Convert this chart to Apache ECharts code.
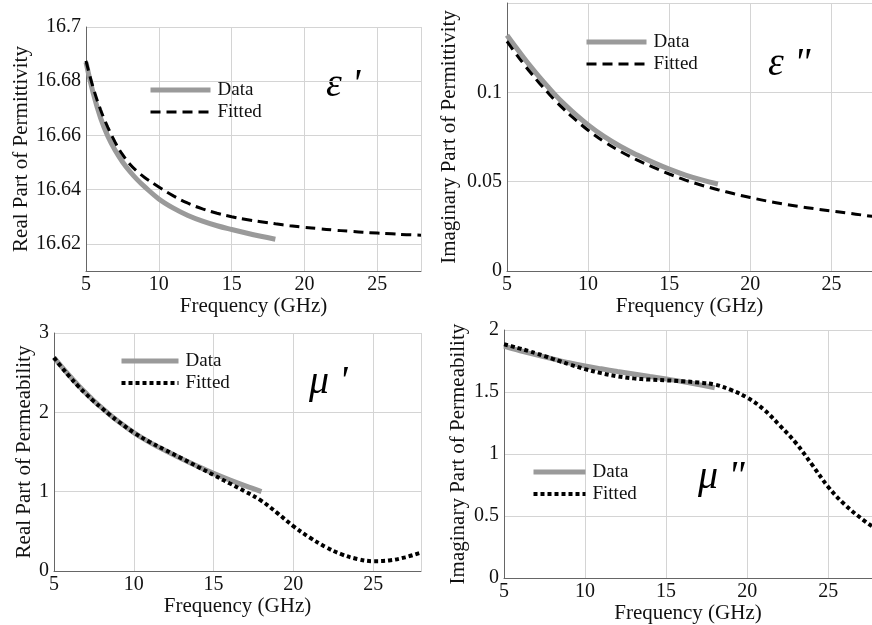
<!DOCTYPE html>
<html>
<head>
<meta charset="utf-8">
<script src="https://cdn.jsdelivr.net/npm/echarts@6/dist/echarts.min.js"></script>
<style>
  html, body { margin: 0; padding: 0; background: #fff; }
  #main { width: 872px; height: 625px; }
</style>
</head>
<body>
<div id="main"></div>
<script>
// frequency points (GHz)
var dataFreq = [5, 5.5, 6, 6.5, 7, 7.5, 8, 8.5, 9, 10, 11, 12, 13, 14, 15, 16, 17, 18];
var fitFreq = [5, 5.5, 6, 6.5, 7, 7.5, 8, 8.5, 9, 10, 11, 12, 13, 14, 15, 16, 17, 18,
               19, 20, 21, 22, 23, 24, 25, 26, 27, 28];

// eps'  real part of permittivity
var epsRealData = [16.687, 16.6755, 16.6665, 16.6597, 16.6545, 16.6503, 16.6468, 16.6438, 16.6412,
                   16.6366, 16.6332, 16.6305, 16.6284, 16.6267, 16.6253, 16.6240, 16.6228, 16.6217];
var epsRealFit = [16.6875, 16.6775, 16.6695, 16.6630, 16.6575, 16.6530, 16.6495, 16.6468, 16.6446,
                  16.6410, 16.6377, 16.6350, 16.6329, 16.6313, 16.6300, 16.6290, 16.6282, 16.6274,
                  16.6267, 16.6261, 16.6256, 16.6251, 16.6247, 16.6243, 16.6240, 16.6237, 16.6234, 16.6232];

// eps''  imaginary part of permittivity
var epsImagData = [0.1320, 0.1258, 0.1198, 0.1140, 0.1085, 0.1033, 0.0983, 0.0937, 0.0895,
                   0.0818, 0.0752, 0.0697, 0.0650, 0.0608, 0.0570, 0.0537, 0.0510, 0.0487];
var epsImagFit = [0.1285, 0.1222, 0.1162, 0.1105, 0.1051, 0.1000, 0.0951, 0.0906, 0.0864,
                  0.0788, 0.0723, 0.0669, 0.0622, 0.0581, 0.0543, 0.0509, 0.0480, 0.0455,
                  0.0432, 0.0411, 0.0392, 0.0376, 0.0361, 0.0348, 0.0336, 0.0324, 0.0312, 0.0300];

// mu'  real part of permeability
var muRealData = [2.69, 2.57, 2.455, 2.345, 2.242, 2.145, 2.055, 1.97, 1.89,
                  1.745, 1.622, 1.515, 1.415, 1.32, 1.23, 1.148, 1.072, 1.0];
var muRealFit = [2.69, 2.563, 2.444, 2.333, 2.232, 2.138, 2.052, 1.968, 1.89,
                 1.745, 1.625, 1.522, 1.42, 1.315, 1.21, 1.105, 1.0, 0.885,
                 0.73, 0.565, 0.425, 0.305, 0.212, 0.152, 0.124, 0.133, 0.172, 0.232];

// mu''  imaginary part of permeability
var muImagData = [1.87, 1.851, 1.833, 1.816, 1.80, 1.783, 1.767, 1.751, 1.736,
                  1.71, 1.687, 1.665, 1.645, 1.625, 1.605, 1.584, 1.56, 1.535];
var muImagFit = [1.885, 1.868, 1.85, 1.831, 1.811, 1.79, 1.768, 1.746, 1.724,
                 1.685, 1.652, 1.627, 1.61, 1.60, 1.594, 1.587, 1.577, 1.56,
                 1.517, 1.455, 1.362, 1.232, 1.09, 0.915, 0.735, 0.595, 0.485, 0.39];

var FONT = 'Liberation Serif';

function pairs(xs, ys) {
  return xs.map(function (x, i) { return [x, ys[i]]; });
}

function xAxisOf(idx, max) {
  return {
    type: 'value', gridIndex: idx, min: 5, max: max, interval: 5,
    name: 'Frequency (GHz)', nameLocation: 'middle', nameGap: 21,
    nameTextStyle: { fontFamily: FONT, fontSize: 21, color: '#111' },
    axisLine: { lineStyle: { color: '#666' } },
    axisTick: { show: false },
    axisLabel: { fontFamily: FONT, fontSize: 20, color: '#111', margin: 4, showMaxLabel: false },
    splitLine: { show: true, lineStyle: { color: '#d4d4d4' } }
  };
}

function yAxisOf(idx, name, gap, ext) {
  var ax = {
    type: 'value', gridIndex: idx,
    name: name, nameLocation: 'middle', nameGap: gap,
    nameTextStyle: { fontFamily: FONT, fontSize: 21, color: '#111' },
    axisLine: { show: true, lineStyle: { color: '#666' } },
    axisTick: { show: false },
    axisLabel: { fontFamily: FONT, fontSize: 20, color: '#111', margin: 5 },
    splitLine: { show: true, lineStyle: { color: '#d4d4d4' } }
  };
  for (var k in ext) {
    if (k === 'axisLabel') Object.assign(ax.axisLabel, ext[k]);
    else ax[k] = ext[k];
  }
  return ax;
}

var dataStyle = { color: '#9a9a9a', width: 5 };
var dashStyle = { color: '#000', width: 3, type: [10, 6] };
var dotStyle = { color: '#000', width: 4, type: [4, 3] };

function lineSeries(name, idx, xs, ys, style, z) {
  return {
    name: name, type: 'line', xAxisIndex: idx, yAxisIndex: idx,
    data: pairs(xs, ys), showSymbol: false, symbol: 'none',
    smooth: 0.4, z: z,
    lineStyle: style, itemStyle: { color: style.color },
    emphasis: { disabled: true }
  };
}

function legendOf(idx, left, top, w, fitStyle) {
  return {
    orient: 'vertical', left: left, top: top, padding: 0,
    itemWidth: w, itemHeight: 14, itemGap: 2,
    data: [
      { name: 'Data#' + idx, lineStyle: { width: dataStyle.width, color: dataStyle.color } },
      { name: 'Fitted#' + idx, lineStyle: { width: fitStyle.width, type: fitStyle.type, color: '#000' } }
    ],
    // hide the circle marker, keep only the line sample
    itemStyle: { color: 'rgba(0,0,0,0)', borderWidth: 0, opacity: 0 },
    formatter: function (n) { return n.split('#')[0]; },
    textStyle: { fontFamily: FONT, fontSize: 19, color: '#111', lineHeight: 20, padding: [0, 0, 0, 2] }
  };
}

function greek(text, x, y) {
  return {
    type: 'text', x: x, y: y,
    style: { text: text, fontFamily: FONT, fontStyle: 'italic', fontSize: 40,
             fill: '#000', textVerticalAlign: 'middle' }
  };
}

var myChart = echarts.init(document.getElementById('main'), null, { renderer: 'canvas' });

myChart.setOption({
  backgroundColor: '#fff',
  animation: false,
  grid: [
    { left: 86, top: 27, width: 335, height: 244 },
    { left: 507, top: 3, width: 365, height: 268 },
    { left: 54, top: 333, width: 367, height: 238 },
    { left: 504, top: 330, width: 368, height: 249 }
  ],
  xAxis: [
    xAxisOf(0, 28),
    xAxisOf(1, 27.5),
    xAxisOf(2, 28),
    xAxisOf(3, 27.7)
  ],
  yAxis: [
    yAxisOf(0, 'Real Part of Permittivity', 52,
      { min: 16.61, max: 16.7, splitNumber: 5, axisLabel: { showMinLabel: false } }),
    yAxisOf(1, 'Imaginary Part of Permittivity', 47,
      { min: 0, max: 0.15, interval: 0.05, axisLabel: { showMaxLabel: false } }),
    yAxisOf(2, 'Real Part of Permeability', 18, { min: 0, max: 3, interval: 1 }),
    yAxisOf(3, 'Imaginary Part of Permeability', 35, { min: 0, max: 2, interval: 0.5 })
  ],
  legend: [
    legendOf(0, 148, 80, 60, dashStyle),
    legendOf(1, 584, 32, 60, dashStyle),
    legendOf(2, 119, 351, 57, dotStyle),
    legendOf(3, 531, 462, 52, dotStyle)
  ],
  graphic: [
    greek("\u03b5 '", 326, 85),
    greek('\u03b5 "', 768, 64),
    greek("\u03bc '", 309, 382),
    greek('\u03bc "', 698, 477)
  ],
  series: [
    lineSeries('Data#0', 0, dataFreq, epsRealData, dataStyle, 2),
    lineSeries('Fitted#0', 0, fitFreq, epsRealFit, dashStyle, 3),
    lineSeries('Data#1', 1, dataFreq, epsImagData, dataStyle, 2),
    lineSeries('Fitted#1', 1, fitFreq, epsImagFit, dashStyle, 3),
    lineSeries('Data#2', 2, dataFreq, muRealData, dataStyle, 2),
    lineSeries('Fitted#2', 2, fitFreq, muRealFit, dotStyle, 3),
    lineSeries('Data#3', 3, dataFreq, muImagData, dataStyle, 2),
    lineSeries('Fitted#3', 3, fitFreq, muImagFit, dotStyle, 3)
  ]
});
</script>
</body>
</html>
